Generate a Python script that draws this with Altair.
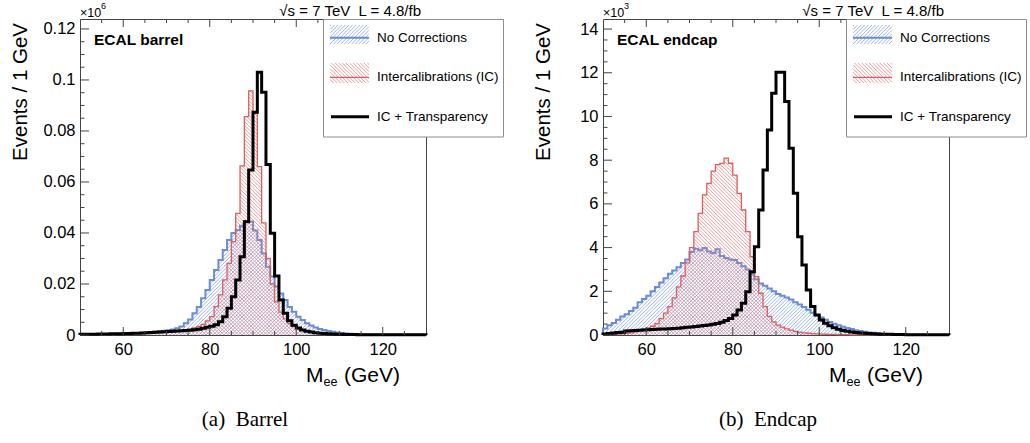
import altair as alt
import numpy as np
import pandas as pd

# ---------------- data ----------------
edges = list(range(50, 131))  # 1 GeV bins, 50-130 GeV

# ECAL barrel, Events / 1 GeV in units of 10^6 (bins 50..129)
barrel_no_corr = [
    0.0002, 0.0002, 0.0002, 0.0003, 0.0003, 0.0003, 0.0004, 0.0004, 0.0005, 0.0005,
    0.0006, 0.0006, 0.0007, 0.0008, 0.0009, 0.0010, 0.0011, 0.0013, 0.0015, 0.0017,
    0.0019, 0.0022, 0.0026, 0.0033, 0.0046, 0.0061, 0.0085, 0.0110, 0.0144, 0.0176,
    0.0216, 0.0255, 0.0294, 0.0333, 0.0372, 0.0400, 0.0412, 0.0428, 0.0447, 0.0445,
    0.0410, 0.0372, 0.0320, 0.0268, 0.0229, 0.0190, 0.0163, 0.0137, 0.0110, 0.0091,
    0.0072, 0.0059, 0.0046, 0.0037, 0.0029, 0.0024, 0.0020, 0.0016, 0.0013, 0.0010,
    0.0008, 0.0006, 0.0005, 0.0004, 0.0003, 0.0003, 0.0002, 0.0002, 0.0002, 0.0001,
    0.0001, 0.0001, 0.0001, 0.0001, 0.0001, 0.0001, 0.0001, 0.0001, 0.0001, 0.0001]
barrel_ic = [
    0.0001, 0.0001, 0.0001, 0.0001, 0.0002, 0.0002, 0.0002, 0.0002, 0.0003, 0.0003,
    0.0003, 0.0004, 0.0004, 0.0005, 0.0005, 0.0006, 0.0007, 0.0008, 0.0009, 0.0010,
    0.0011, 0.0012, 0.0014, 0.0016, 0.0019, 0.0023, 0.0028, 0.0034, 0.0042, 0.0055,
    0.0072, 0.0111, 0.0157, 0.0216, 0.0281, 0.0366, 0.0477, 0.0663, 0.0856, 0.0957,
    0.0870, 0.0660, 0.0440, 0.0300, 0.0200, 0.0130, 0.0090, 0.0063, 0.0045, 0.0033,
    0.0024, 0.0018, 0.0014, 0.0011, 0.0009, 0.0007, 0.0006, 0.0005, 0.0004, 0.0003,
    0.0003, 0.0002, 0.0002, 0.0002, 0.0001, 0.0001, 0.0001, 0.0001, 0.0001, 0.0001,
    0.0001, 0.0001, 0.0001, 0.0001, 0.0000, 0.0000, 0.0000, 0.0000, 0.0000, 0.0000]
barrel_ic_tr = [
    0.0003, 0.0003, 0.0003, 0.0003, 0.0004, 0.0004, 0.0004, 0.0005, 0.0005, 0.0005,
    0.0006, 0.0006, 0.0007, 0.0007, 0.0008, 0.0009, 0.0010, 0.0011, 0.0012, 0.0013,
    0.0014, 0.0015, 0.0016, 0.0017, 0.0018, 0.0019, 0.0021, 0.0023, 0.0026, 0.0030,
    0.0034, 0.0040, 0.0052, 0.0072, 0.0105, 0.0150, 0.0216, 0.0307, 0.0444, 0.0647,
    0.0873, 0.1030, 0.0952, 0.0669, 0.0399, 0.0231, 0.0137, 0.0085, 0.0056, 0.0038,
    0.0027, 0.0020, 0.0015, 0.0012, 0.0009, 0.0007, 0.0006, 0.0005, 0.0004, 0.0003,
    0.0003, 0.0002, 0.0002, 0.0002, 0.0001, 0.0001, 0.0001, 0.0001, 0.0001, 0.0001,
    0.0001, 0.0001, 0.0001, 0.0001, 0.0001, 0.0001, 0.0001, 0.0001, 0.0001, 0.0001]

# ECAL endcap, Events / 1 GeV in units of 10^3 (bins 50..129)
endcap_no_corr = [
    0.30, 0.45, 0.55, 0.70, 0.85, 0.95, 1.10, 1.25, 1.50, 1.65,
    1.80, 2.00, 2.20, 2.40, 2.60, 2.80, 2.95, 3.10, 3.30, 3.45,
    3.80, 3.95, 3.88, 3.98, 3.82, 3.75, 3.92, 3.62, 3.52, 3.45,
    3.43, 3.30, 3.15, 3.00, 2.80, 2.55, 2.36, 2.25, 2.13, 2.00,
    1.88, 1.80, 1.72, 1.62, 1.50, 1.40, 1.28, 1.15, 1.02, 0.90,
    0.80, 0.70, 0.60, 0.52, 0.45, 0.38, 0.32, 0.27, 0.22, 0.18,
    0.15, 0.12, 0.10, 0.08, 0.06, 0.05, 0.04, 0.03, 0.025, 0.02,
    0.015, 0.01, 0.01, 0.01, 0.01, 0.005, 0.005, 0.005, 0.005, 0.005]
endcap_ic = [
    0.01, 0.02, 0.03, 0.04, 0.05, 0.07, 0.10, 0.14, 0.20, 0.27,
    0.33, 0.40, 0.52, 0.75, 1.00, 1.30, 1.70, 2.20, 2.70, 3.30,
    4.00, 4.73, 5.57, 6.41, 6.94, 7.50, 7.80, 7.85, 8.09, 7.86,
    7.32, 6.48, 5.72, 4.73, 3.58, 2.67, 1.91, 1.30, 0.85, 0.60,
    0.45, 0.36, 0.28, 0.22, 0.17, 0.13, 0.10, 0.08, 0.06, 0.05,
    0.04, 0.035, 0.03, 0.025, 0.02, 0.015, 0.015, 0.01, 0.01, 0.01,
    0.01, 0.005, 0.005, 0.005, 0.0, 0.0, 0.0, 0.0, 0.0, 0.0,
    0.0, 0.0, 0.0, 0.0, 0.0, 0.0, 0.0, 0.0, 0.0, 0.0]
endcap_ic_tr = [
    0.05, 0.07, 0.09, 0.11, 0.13, 0.18, 0.20, 0.21, 0.22, 0.23,
    0.24, 0.25, 0.26, 0.27, 0.28, 0.29, 0.30, 0.31, 0.33, 0.35,
    0.37, 0.39, 0.41, 0.43, 0.46, 0.49, 0.53, 0.58, 0.66, 0.76,
    0.91, 1.14, 1.45, 1.98, 2.90, 4.04, 5.72, 7.55, 9.38, 11.06,
    12.02, 12.02, 10.68, 8.54, 6.49, 4.50, 3.20, 2.06, 1.30, 0.92,
    0.69, 0.54, 0.42, 0.33, 0.26, 0.21, 0.17, 0.14, 0.11, 0.09,
    0.08, 0.07, 0.06, 0.05, 0.04, 0.035, 0.03, 0.025, 0.02, 0.02,
    0.015, 0.01, 0.01, 0.01, 0.01, 0.01, 0.01, 0.01, 0.01, 0.01]

x_major = [60, 80, 100, 120]
x_minor = [55, 65, 70, 75, 85, 90, 95, 105, 110, 115, 125]
barrel_y_major = [0, 0.02, 0.04, 0.06, 0.08, 0.1, 0.12]
barrel_y_minor = [0.005, 0.01, 0.015, 0.025, 0.03, 0.035, 0.045, 0.05, 0.055,
                  0.065, 0.07, 0.075, 0.085, 0.09, 0.095, 0.105, 0.11, 0.115]
endcap_y_major = [0, 2, 4, 6, 8, 10, 12, 14]
endcap_y_minor = [0.5, 1, 1.5, 2.5, 3, 3.5, 4.5, 5, 5.5, 6.5, 7, 7.5, 8.5, 9, 9.5,
                  10.5, 11, 11.5, 12.5, 13, 13.5]
barrel_y_top = 0.1239
endcap_y_top = 14.46

legend_labels = ["No Corrections", "Intercalibrations (IC)", "IC + Transparency"]
energy_text = "\u221As = 7 TeV \u00a0L = 4.8/fb"

# ---------------- styling ----------------
FONT = "Liberation Sans"
SERIF = "Liberation Serif"
W, H = 346, 316
BLUE = "#6a8dd6"
RED = "#dd5f5f"
BLUE_H = "#7d9ce0"
RED_H = "#e57b7b"
FRAME = "#444444"
HATCH_STEP = 3.6

XS = alt.Scale(domain=[edges[0], edges[-1]], nice=False, zero=False)


def clip_hatch(rects, step, rising):
    """45-degree hatch lines clipped to a row of touching rectangles (px, y up)."""
    hmax = max([r[2] for r in rects] + [0])
    x_lo, x_hi = rects[0][0], rects[-1][1]
    if rising:
        ks = np.arange(np.floor((x_lo - hmax) / step) - 1, np.ceil(x_hi / step) + 2)
    else:
        ks = np.arange(np.floor(x_lo / step) - 1, np.ceil((x_hi + hmax) / step) + 2)
    out = []
    for k in ks:
        c = k * step
        cur = None
        for x0, x1, h in rects:
            if h <= 0:
                continue
            if rising:
                a, b = max(x0, c), min(x1, c + h)
            else:
                a, b = max(x0, c - h), min(x1, c)
            if b - a > 1e-6:
                if cur is not None and abs(cur[2] - a) < 1e-6:
                    cur[2] = b
                else:
                    if cur is not None:
                        out.append(tuple(cur))
                    cur = [c, a, b]
        if cur is not None:
            out.append(tuple(cur))
    res = []
    for c, a, b in out:
        ya = (a - c) if rising else (c - a)
        yb = (b - c) if rising else (c - b)
        res.append((a, ya, b, yb))
    return res


def hatch_df(vals, ytop, rising):
    sx = W / (edges[-1] - edges[0])
    sy = H / ytop
    rects = [((edges[i] - edges[0]) * sx, (edges[i + 1] - edges[0]) * sx, v * sy)
             for i, v in enumerate(vals)]
    rows = [{"x": edges[0] + a / sx, "y": ya / sy, "x2": edges[0] + b / sx, "y2": yb / sy}
            for a, ya, b, yb in clip_hatch(rects, HATCH_STEP, rising)]
    return pd.DataFrame(rows)


def swatch_df(x0, x1, ytop, ybot, rising, color):
    rows = [{"px": x0 + a, "py": ybot - ya, "px2": x0 + b, "py2": ybot - yb, "col": color}
            for a, ya, b, yb in clip_hatch([(0, x1 - x0, ybot - ytop)], HATCH_STEP, rising)]
    return rows


def outline_df(vals):
    pts = [(edges[0], 0.0)]
    for i, v in enumerate(vals):
        pts.append((edges[i], v))
        pts.append((edges[i + 1], v))
    pts.append((edges[-1], 0.0))
    return pd.DataFrame({"m": [p[0] for p in pts], "v": [p[1] for p in pts],
                         "o": list(range(len(pts)))})


def PX(f):
    return alt.X(f, type="quantitative", scale=None, axis=None)


def PY(f):
    return alt.Y(f, type="quantitative", scale=None, axis=None)


def text_layer(rows, size, align="left", baseline="alphabetic", weight="normal",
               font=FONT, angle=0):
    return alt.Chart(pd.DataFrame(rows)).mark_text(
        align=align, baseline=baseline, fontSize=size, fontWeight=weight,
        font=font, color="black", angle=angle
    ).encode(x=PX("px"), y=PY("py"), text="t:N")


def panel(no_corr, ic, ic_tr, ytop, y_major, y_minor, exp_txt, region, caption):
    YS = alt.Scale(domain=[0, ytop], nice=False, zero=False)
    xax = alt.Axis(values=x_major, ticks=False, domain=False, grid=False, title=None,
                   labelFont=FONT, labelFontSize=16.5, labelColor="black", labelPadding=6)
    yax = alt.Axis(values=y_major, ticks=False, domain=False, grid=False, title=None,
                   format="~g", labelFont=FONT, labelFontSize=16.5, labelColor="black",
                   labelPadding=5)

    def X(f):
        return alt.X(f, type="quantitative", scale=XS, axis=xax)

    def Y(f):
        return alt.Y(f, type="quantitative", scale=YS, axis=yax)

    def hatch_layer(vals, rising, color):
        return alt.Chart(hatch_df(vals, ytop, rising)).mark_rule(
            color=color, strokeWidth=0.75
        ).encode(x=X("x"), y=Y("y"), x2="x2:Q", y2="y2:Q")

    def line_layer(vals, color, width):
        return alt.Chart(outline_df(vals)).mark_line(
            color=color, strokeWidth=width, strokeJoin="miter", strokeCap="butt"
        ).encode(x=X("m"), y=Y("v"), order="o:Q")

    def xtick_layer(vals, y0, y1):
        return alt.Chart(pd.DataFrame({"t": vals})).mark_rule(
            color=FRAME, strokeWidth=1
        ).encode(x=X("t"), y=alt.value(y0), y2=alt.value(y1))

    def ytick_layer(vals, length):
        return alt.Chart(pd.DataFrame({"t": vals})).mark_rule(
            color=FRAME, strokeWidth=1
        ).encode(y=Y("t"), x=alt.value(0), x2=alt.value(length))

    layers = [
        hatch_layer(no_corr, True, BLUE_H),
        line_layer(no_corr, BLUE, 2.0),
        hatch_layer(ic, False, RED_H),
        line_layer(ic, RED, 1.3),
        line_layer(ic_tr, "black", 3.0),
        xtick_layer(x_major, H, H - 8), xtick_layer(x_major, 0, 8),
        xtick_layer(x_minor, H, H - 4), xtick_layer(x_minor, 0, 4),
        ytick_layer(y_major, 9), ytick_layer(y_minor, 4.5),
    ]

    # legend box
    lx0, lx1 = 243.5, 423.5
    layers.append(alt.Chart(pd.DataFrame({"px": [lx0], "px2": [lx1], "py": [0.5], "py2": [118]}))
                  .mark_rect(fill="white", stroke="#8c8c8c", strokeWidth=1)
                  .encode(x=PX("px"), x2="px2:Q", y=PY("py"), y2="py2:Q"))
    sw = swatch_df(250, 289, 6, 25, True, BLUE_H) + swatch_df(250, 289, 44, 64, False, RED_H)
    layers.append(alt.Chart(pd.DataFrame(sw)).mark_rule(strokeWidth=0.75)
                  .encode(x=PX("px"), x2="px2:Q", y=PY("py"), y2="py2:Q",
                          color=alt.Color("col:N", scale=None)))
    leg_y = [18.7, 58.3, 97.7]
    layers.append(alt.Chart(pd.DataFrame({
        "px": [250, 250, 251], "px2": [289, 289, 289], "py": leg_y,
        "col": [BLUE, RED, "black"], "w": [2.0, 1.3, 3.0]}))
        .mark_rule().encode(x=PX("px"), x2="px2:Q", y=PY("py"),
                            color=alt.Color("col:N", scale=None),
                            strokeWidth=alt.StrokeWidth("w:Q", scale=None)))
    layers.append(text_layer([{"px": 297, "py": y, "t": t} for y, t in zip(leg_y, legend_labels)],
                             13.5, baseline="middle"))

    # annotations
    layers.append(text_layer([{"px": 14, "py": 26, "t": region}], 15.5, weight="bold"))
    layers.append(text_layer([{"px": 341, "py": -3, "t": energy_text}], 15, align="right"))
    layers.append(text_layer([{"px": 0, "py": -1.7, "t": "\u00d710"}], 12.5))
    layers.append(text_layer([{"px": 21, "py": -10.5, "t": exp_txt}], 9))
    layers.append(text_layer([{"px": -59, "py": 4, "t": "Events / 1 GeV"}], 20.5,
                             align="right", baseline="middle", angle=270))
    layers.append(text_layer([{"px": 226, "py": H + 47, "t": "M"},
                              {"px": 264, "py": H + 47, "t": "(GeV)"}], 21))
    layers.append(text_layer([{"px": 243.5, "py": H + 50.5, "t": "ee"}], 12.5))
    layers.append(text_layer([{"px": 165, "py": H + 91, "t": caption}], 21,
                             align="center", font=SERIF))

    return alt.layer(*layers).properties(width=W, height=H)


left = panel(barrel_no_corr, barrel_ic, barrel_ic_tr, barrel_y_top,
             barrel_y_major, barrel_y_minor, "6", "ECAL barrel", "(a)\u00a0 Barrel")
right = panel(endcap_no_corr, endcap_ic, endcap_ic_tr, endcap_y_top,
              endcap_y_major, endcap_y_minor, "3", "ECAL endcap", "(b)\u00a0 Endcap")

chart = alt.hconcat(left, right, spacing=177, bounds="flush").configure_view(
    stroke=FRAME, strokeWidth=1
).properties(
    padding={"left": 10, "top": 1, "right": 2, "bottom": 2},
    background="white",
)

chart.save("out.html", embed_options={"renderer": "svg", "actions": False})
